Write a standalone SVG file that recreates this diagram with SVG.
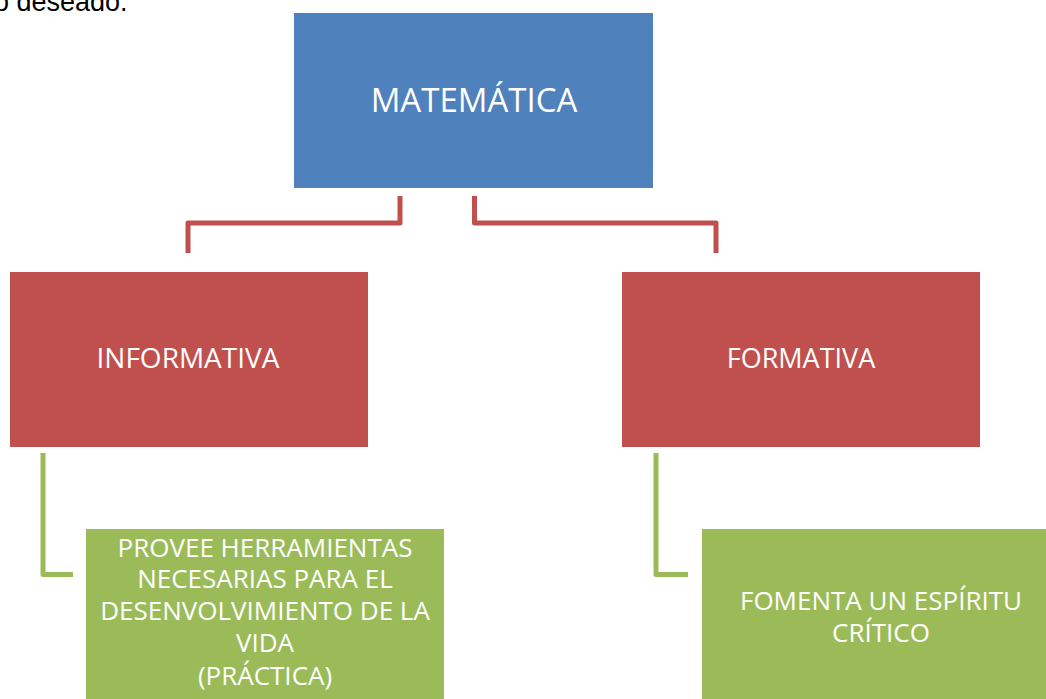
<svg xmlns="http://www.w3.org/2000/svg" width="1046" height="699" viewBox="0 0 1046 699">
<style>
.lbl{font-family:"Open Sans","Liberation Sans",sans-serif;fill:#ffffff;text-anchor:middle}
.red{stroke:#C0504D;stroke-width:5;fill:none;stroke-linejoin:round}
.grn{stroke:#9BBB59;stroke-width:5;fill:none;stroke-linejoin:round}
</style>
<rect width="1046" height="699" fill="#ffffff"/>
<text x="-6" y="11" font-family="Liberation Sans, Arial, sans-serif" font-size="27" fill="#000000">o deseado.</text>
<g id="connectors">
<path class="red" d="M400,196 V223 H188 V253"/>
<path class="red" d="M474.5,196 V223 H716 V253"/>
<path class="grn" d="M43,453 V574.5 H73"/>
<path class="grn" d="M656,453 V574.5 H688"/>
</g>
<g id="matematica">
<rect x="294" y="13" width="359" height="175" fill="#4F81BD"/>
<text class="lbl" x="474" y="112" font-size="33">MATEMÁTICA</text>
</g>
<g id="informativa">
<rect x="10" y="272" width="358" height="175" fill="#C0504D"/>
<text class="lbl" x="188" y="368" font-size="28">INFORMATIVA</text>
</g>
<g id="formativa">
<rect x="622" y="272" width="358" height="175" fill="#C0504D"/>
<text class="lbl" x="801" y="368" font-size="27">FORMATIVA</text>
</g>
<g id="provee">
<rect x="86" y="529" width="358" height="180" fill="#9BBB59"/>
<text class="lbl" font-size="26"><tspan x="265" y="557">PROVEE HERRAMIENTAS</tspan><tspan x="265" y="588">NECESARIAS PARA EL</tspan><tspan x="265" y="620">DESENVOLVIMIENTO DE LA</tspan><tspan x="265" y="652">VIDA</tspan><tspan x="265" y="685">(PRÁCTICA)</tspan></text>
</g>
<g id="fomenta">
<rect x="702" y="529" width="358" height="180" fill="#9BBB59"/>
<text class="lbl" font-size="26"><tspan x="881" y="610">FOMENTA UN ESPÍRITU</tspan><tspan x="881" y="642">CRÍTICO</tspan></text>
</g>
</svg>
